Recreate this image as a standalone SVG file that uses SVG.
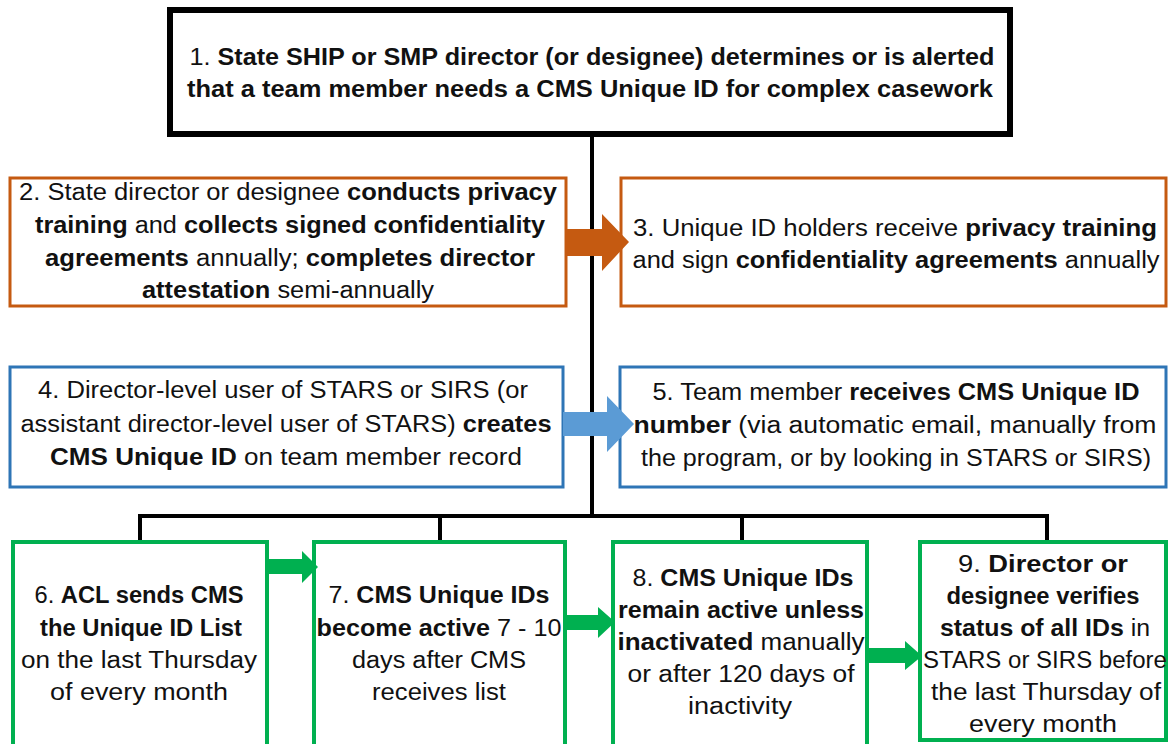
<svg xmlns="http://www.w3.org/2000/svg" width="1169" height="744" viewBox="0 0 1169 744">
<style>
text{font-family:"Liberation Sans",Arial,sans-serif;font-size:23.5px;fill:#111;text-anchor:middle}
.b{font-weight:bold}
.box{fill:#fff}
.k{stroke:#000;stroke-width:6}
.o{stroke:#C55A11;stroke-width:3}
.u{stroke:#2E75B6;stroke-width:3}
.g{stroke:#00B050;stroke-width:4}
.ln{stroke:#000;stroke-width:4;fill:none}
</style>
<rect width="1169" height="744" fill="#fff"/>
<g id="connectors">
<path class="ln" d="M592,136 V516 M140,516 H1047 M140,514 V542 M440,514 V542 M742,514 V542 M1047,514 V542"/>
</g>
<g id="n1"><rect class="box k" x="170" y="10" width="840" height="124"/>
<text x="592" y="65" textLength="805" lengthAdjust="spacingAndGlyphs">1. <tspan class="b">State SHIP or SMP director (or designee) determines or is alerted</tspan></text>
<text x="590" y="97" textLength="806" lengthAdjust="spacingAndGlyphs" class="b">that a team member needs a CMS Unique ID for complex casework</text></g>
<g id="n2"><rect class="box o" x="10" y="178" width="556" height="128"/>
<text x="288" y="200" textLength="538" lengthAdjust="spacingAndGlyphs">2. State director or designee <tspan class="b">conducts privacy</tspan></text>
<text x="290" y="233" textLength="510" lengthAdjust="spacingAndGlyphs"><tspan class="b">training</tspan> and <tspan class="b">collects signed confidentiality</tspan></text>
<text x="290" y="266" textLength="490" lengthAdjust="spacingAndGlyphs"><tspan class="b">agreements</tspan> annually; <tspan class="b">completes director</tspan></text>
<text x="288" y="298" textLength="292" lengthAdjust="spacingAndGlyphs"><tspan class="b">attestation</tspan> semi-annually</text></g>
<g id="n3"><rect class="box o" x="621" y="178" width="545" height="128"/>
<text x="895" y="236" textLength="524" lengthAdjust="spacingAndGlyphs">3. Unique ID holders receive <tspan class="b">privacy training</tspan></text>
<text x="896" y="268" textLength="527" lengthAdjust="spacingAndGlyphs">and sign <tspan class="b">confidentiality agreements</tspan> annually</text></g>
<g id="n4"><rect class="box u" x="10" y="367" width="553" height="120"/>
<text x="283" y="398" textLength="490" lengthAdjust="spacingAndGlyphs">4. Director-level user of STARS or SIRS (or</text>
<text x="286" y="432" textLength="531" lengthAdjust="spacingAndGlyphs">assistant director-level user of STARS) <tspan class="b">creates</tspan></text>
<text x="286" y="465" textLength="472" lengthAdjust="spacingAndGlyphs"><tspan class="b">CMS Unique ID</tspan> on team member record</text></g>
<g id="n5"><rect class="box u" x="620" y="367" width="546" height="120"/>
<text x="896" y="400" textLength="487" lengthAdjust="spacingAndGlyphs">5. Team member <tspan class="b">receives CMS Unique ID</tspan></text>
<text x="895" y="433" textLength="523" lengthAdjust="spacingAndGlyphs"><tspan class="b">number</tspan> (via automatic email, manually from</text>
<text x="896" y="466" textLength="510" lengthAdjust="spacingAndGlyphs">the program, or by looking in STARS or SIRS)</text></g>
<g id="n6"><rect class="box g" x="13" y="542" width="254" height="220"/>
<text x="139" y="603" textLength="209" lengthAdjust="spacingAndGlyphs">6. <tspan class="b">ACL sends CMS</tspan></text>
<text x="141" y="636" textLength="202" lengthAdjust="spacingAndGlyphs" class="b">the Unique ID List</text>
<text x="139" y="668" textLength="236" lengthAdjust="spacingAndGlyphs">on the last Thursday</text>
<text x="139" y="700" textLength="178" lengthAdjust="spacingAndGlyphs">of every month</text></g>
<g id="n7"><rect class="box g" x="314" y="542" width="251" height="220"/>
<text x="439" y="603" textLength="221" lengthAdjust="spacingAndGlyphs">7. <tspan class="b">CMS Unique IDs</tspan></text>
<text x="439" y="636" textLength="245" lengthAdjust="spacingAndGlyphs"><tspan class="b">become active</tspan> 7 - 10</text>
<text x="439" y="668" textLength="174" lengthAdjust="spacingAndGlyphs">days after CMS</text>
<text x="439" y="700" textLength="134" lengthAdjust="spacingAndGlyphs">receives list</text></g>
<g id="n8"><rect class="box g" x="613" y="542" width="254" height="220"/>
<text x="743" y="586" textLength="221" lengthAdjust="spacingAndGlyphs">8. <tspan class="b">CMS Unique IDs</tspan></text>
<text x="741" y="618" textLength="246" lengthAdjust="spacingAndGlyphs" class="b">remain active unless</text>
<text x="741" y="650" textLength="247" lengthAdjust="spacingAndGlyphs"><tspan class="b">inactivated</tspan> manually</text>
<text x="741" y="682" textLength="227" lengthAdjust="spacingAndGlyphs">or after 120 days of</text>
<text x="740" y="714" textLength="104" lengthAdjust="spacingAndGlyphs">inactivity</text></g>
<g id="n9"><rect class="box g" x="920" y="542" width="246" height="198"/>
<text x="1043" y="572" textLength="170" lengthAdjust="spacingAndGlyphs">9. <tspan class="b">Director or</tspan></text>
<text x="1043" y="604" textLength="193" lengthAdjust="spacingAndGlyphs" class="b">designee verifies</text>
<text x="1045" y="636" textLength="210" lengthAdjust="spacingAndGlyphs"><tspan class="b">status of all IDs</tspan> in</text>
<text x="1045" y="668" textLength="244" lengthAdjust="spacingAndGlyphs">STARS or SIRS before</text>
<text x="1046" y="700" textLength="230" lengthAdjust="spacingAndGlyphs">the last Thursday of</text>
<text x="1043" y="732" textLength="148" lengthAdjust="spacingAndGlyphs">every month</text></g>
<g id="arrows">
<polygon fill="#C55A11" points="566,229 602,229 602,214 629,242 602,271 602,256 566,256"/>
<polygon fill="#5B9BD5" points="563,412 607,412 607,396 634,424 607,452 607,436 563,436"/>
<polygon fill="#00B050" points="267,559 302,559 302,551 318,567 302,583 302,574 267,574"/>
<polygon fill="#00B050" points="565,615 598,615 598,607 615,622 598,638 598,630 565,630"/>
<polygon fill="#00B050" points="867,648 905,648 905,641 922,656 905,670 905,663 867,663"/>
</g>
</svg>
